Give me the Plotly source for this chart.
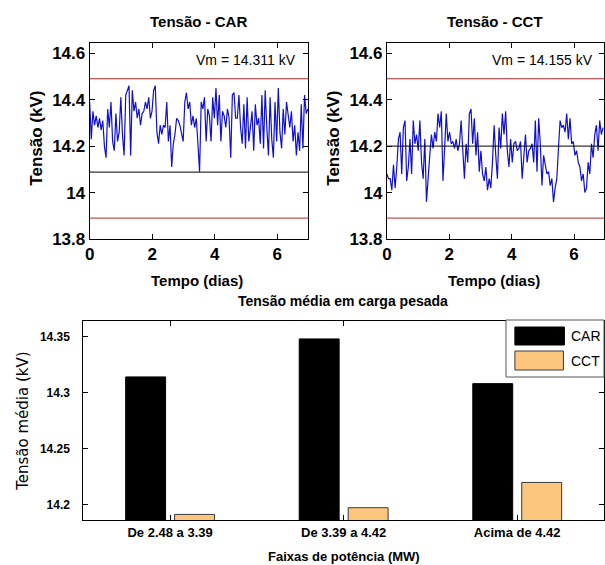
import numpy as np
import plotly.graph_objects as go

# ---------------- data ----------------
car_kv = [
    14.39, 14.23, 14.35, 14.29, 14.33, 14.28, 14.32, 14.27, 14.31, 14.20, 14.15, 14.36, 14.28, 14.39, 14.22,
    14.18, 14.34, 14.22, 14.26, 14.41, 14.25, 14.16, 14.42, 14.44, 14.46, 14.16, 14.44, 14.35, 14.39, 14.32,
    14.36, 14.29, 14.34, 14.35, 14.39, 14.36, 14.41, 14.32, 14.35, 14.44, 14.46, 14.26, 14.21, 14.29, 14.25,
    14.29, 14.28, 14.39, 14.22, 14.29, 14.11, 14.21, 14.25, 14.32, 14.31, 14.29, 14.25, 14.22, 14.39, 14.43,
    14.36, 14.39, 14.29, 14.33, 14.28, 14.32, 14.21, 14.09, 14.39, 14.36, 14.41, 14.22, 14.36, 14.33, 14.22,
    14.41, 14.32, 14.45, 14.29, 14.42, 14.22, 14.35, 14.33, 14.28, 14.36, 14.32, 14.15, 14.42, 14.43, 14.32,
    14.32, 14.42, 14.28, 14.21, 14.38, 14.19, 14.41, 14.22, 14.28, 14.35, 14.18, 14.38, 14.29, 14.32, 14.21,
    14.42, 14.19, 14.44, 14.28, 14.16, 14.41, 14.23, 14.15, 14.39, 14.22, 14.45, 14.26, 14.19, 14.36, 14.25,
    14.39, 14.32, 14.28, 14.35, 14.22, 14.29, 14.16, 14.26, 14.18, 14.38, 14.19, 14.42, 14.34, 14.36,
]
cct_kv = [
    14.08, 14.06, 14.06, 14.01, 14.12, 14.02, 14.11, 14.23, 14.26, 14.08, 14.28, 14.31, 14.05, 14.11, 14.23,
    14.08, 14.31, 14.21, 14.25, 14.18, 14.31, 14.13, 14.06, 14.23, 13.96, 14.08, 14.16, 14.25, 14.19, 14.26,
    14.22, 14.34, 14.28, 14.35, 14.05, 14.19, 14.34, 14.22, 14.26, 14.21, 14.22, 14.19, 14.23, 14.18, 14.21,
    14.31, 14.15, 14.06, 14.21, 14.13, 14.34, 14.36, 14.21, 14.32, 14.16, 14.26, 14.09, 14.18, 14.08, 14.05,
    14.11, 14.01, 14.06, 14.02, 14.13, 14.29, 14.16, 14.06, 14.28, 14.19, 14.34, 14.25, 14.35, 14.18, 14.11,
    14.23, 14.13, 14.21, 14.22, 14.18, 14.19, 14.22, 14.06, 14.18, 14.25, 14.13, 14.18, 14.19, 14.21,
    14.13, 14.31, 14.09, 14.32, 14.21, 14.03, 14.16, 14.12, 14.08, 14.09, 14.03, 14.06, 13.96, 14.02, 14.06,
    14.19, 14.31, 14.28, 14.29, 14.26, 14.34, 14.23, 14.32, 14.21, 14.22, 14.16, 14.18, 14.13, 14.11, 14.05,
    14.08, 14.00, 14.02, 14.13, 14.08, 14.21, 14.15, 14.25, 14.29, 14.18, 14.31, 14.25, 14.28,
]
car_span_days = 6.98
cct_span_days = 6.93

limites_kv = [13.89, 14.49]
ref_car_kv = 14.088
ref_cct_kv = 14.2
vm_car = "Vm = 14.311 kV"
vm_cct = "Vm = 14.155 kV"

top_yticks = [13.8, 14.0, 14.2, 14.4, 14.6]
top_yticktext = ["13.8", "14", "14.2", "14.4", "14.6"]
top_xticks = [0, 2, 4, 6]

faixas = ["De 2.48 a 3.39", "De 3.39 a 4.42", "Acima de 4.42"]
media_car = [14.314, 14.348, 14.308]
media_cct = [14.191, 14.197, 14.2196]
bar_yticks = [14.2, 14.25, 14.3, 14.35]
bar_yticktext = ["14.2", "14.25", "14.3", "14.35"]

# ---------------- helpers ----------------
W, H = 605, 565          # design grid (reference pixels)
FIG_H = 575              # figure height (capture is compressed vertically)
def px(x):
    return x / W
def py(y):
    return 1 - y / H

FONT = "Liberation Sans"
BLUE = "#1010cc"
RED = "#b02828"
ORANGE = "#fdc67f"

t_car = np.linspace(0, car_span_days, len(car_kv))
t_cct = np.linspace(0, cct_span_days, len(cct_kv))
pos = np.arange(1, len(faixas) + 1)

fig = go.Figure()
fig.add_trace(go.Scatter(x=t_car, y=car_kv, mode="lines", line=dict(color=BLUE, width=1.2),
                         xaxis="x", yaxis="y", showlegend=False))
fig.add_trace(go.Scatter(x=t_cct, y=cct_kv, mode="lines", line=dict(color=BLUE, width=1.2),
                         xaxis="x2", yaxis="y2", showlegend=False))
fig.add_trace(go.Bar(x=pos, y=media_car, width=0.23, offset=-0.256, marker=dict(color="black", line=dict(color="black", width=1)),
                     xaxis="x3", yaxis="y3", showlegend=False, name="CAR"))
fig.add_trace(go.Bar(x=pos, y=media_cct, width=0.23, offset=0.026, marker=dict(color=ORANGE, line=dict(color="#3a3a3a", width=1)),
                     xaxis="x3", yaxis="y3", showlegend=False, name="CCT"))

tickfont_top = dict(family=FONT, size=17, color="black", weight="bold")
common = dict(showline=True, linecolor="black", linewidth=1, mirror="ticks", ticks="inside",
              ticklen=5, tickcolor="black", showgrid=False, zeroline=False)

top_y = [py(239), py(43)]
fig.update_layout(
    width=W, height=FIG_H, autosize=False, margin=dict(l=0, r=0, t=0, b=0, pad=0),
    paper_bgcolor="white", plot_bgcolor="white",
    barmode="overlay",
    xaxis=dict(domain=[px(85.5), px(306.5)], range=[0, 7], tickvals=top_xticks, tickfont=tickfont_top,
               anchor="y", **common),
    yaxis=dict(domain=top_y, range=[13.8, 14.644], tickvals=top_yticks, ticktext=top_yticktext,
               tickfont=tickfont_top, anchor="x", **common),
    xaxis2=dict(domain=[px(385.7), 1.0], range=[0, (605 - 385.7) / 31.5], tickvals=top_xticks, tickfont=tickfont_top,
                anchor="y2", **common),
    yaxis2=dict(domain=top_y, range=[13.8, 14.644], tickvals=top_yticks, ticktext=top_yticktext,
                tickfont=tickfont_top, anchor="x2", **common),
    xaxis3=dict(domain=[px(79.1), 1.0], range=[0.5, 3.5], tickvals=list(pos), ticktext=faixas,
                tickfont=dict(family=FONT, size=13, color="black", weight="bold"), anchor="y3", **common),
    yaxis3=dict(domain=[py(520), py(320.7)], range=[14.186, 14.3643], tickvals=bar_yticks, ticktext=bar_yticktext,
                tickfont=dict(family=FONT, size=12, color="black", weight="bold"), ticklabelstandoff=10,
                anchor="x3", **common),
)

shapes = []
for xr, yr, ref in (("x domain", "y", ref_car_kv), ("x2 domain", "y2", ref_cct_kv)):
    for lim in limites_kv:
        shapes.append(dict(type="line", xref=xr, yref=yr, x0=0, x1=1, y0=lim, y1=lim,
                           line=dict(color=RED, width=1)))
    shapes.append(dict(type="line", xref=xr, yref=yr, x0=0, x1=1, y0=ref, y1=ref,
                       line=dict(color="black", width=1)))
# legend box
shapes.append(dict(type="rect", xref="paper", yref="paper", x0=px(506), x1=px(605), y0=py(377), y1=py(320),
                   fillcolor="white", line=dict(color="#555555", width=1)))
shapes.append(dict(type="rect", xref="paper", yref="paper", x0=px(515), x1=px(565), y0=py(345), y1=py(327),
                   fillcolor="black", line=dict(color="black", width=1)))
shapes.append(dict(type="rect", xref="paper", yref="paper", x0=px(515), x1=px(564), y0=py(370), y1=py(351),
                   fillcolor=ORANGE, line=dict(color="#3a3a3a", width=1)))
fig.update_layout(shapes=shapes)

def ann(text, x, y, size, bold=True, angle=0, xanchor="center", family=FONT):
    return dict(text=text, x=px(x), y=py(y), xref="paper", yref="paper", showarrow=False,
                xanchor=xanchor, yanchor="middle", textangle=angle,
                font=dict(family=family, size=size, color="black", weight="bold" if bold else "normal"))

annotations = [
    ann("Tensão - CAR", 195, 21, 15),
    ann("Tensão - CCT", 495, 21, 15),
    ann("Tensão (kV)", 31, 138, 17, angle=-90),
    ann("Tensão (kV)", 331, 138, 17, angle=-90),
    ann("Tempo (dias)", 194, 280, 15),
    ann("Tempo (dias)", 494, 280, 15),
    ann(vm_car, 243, 60, 14, bold=False),
    ann(vm_cct, 543, 60, 14, bold=False),
    ann("Tensão média em carga pesada", 341, 301, 14),
    ann("Faixas de potência (MW)", 342, 556, 13),
    ann("Tensão média (kV)", 18, 421, 15, bold=False, angle=-90, family="DejaVu Sans"),
    ann("CAR", 570, 336, 14, bold=False, xanchor="left"),
    ann("CCT", 570, 361, 14, bold=False, xanchor="left"),
]
fig.update_layout(annotations=annotations)

fig.write_html(
    "out.html",
    config={"displayModeBar": False, "responsive": False},
    post_script="document.body.style.margin='0';document.body.style.overflow='hidden';",
)
